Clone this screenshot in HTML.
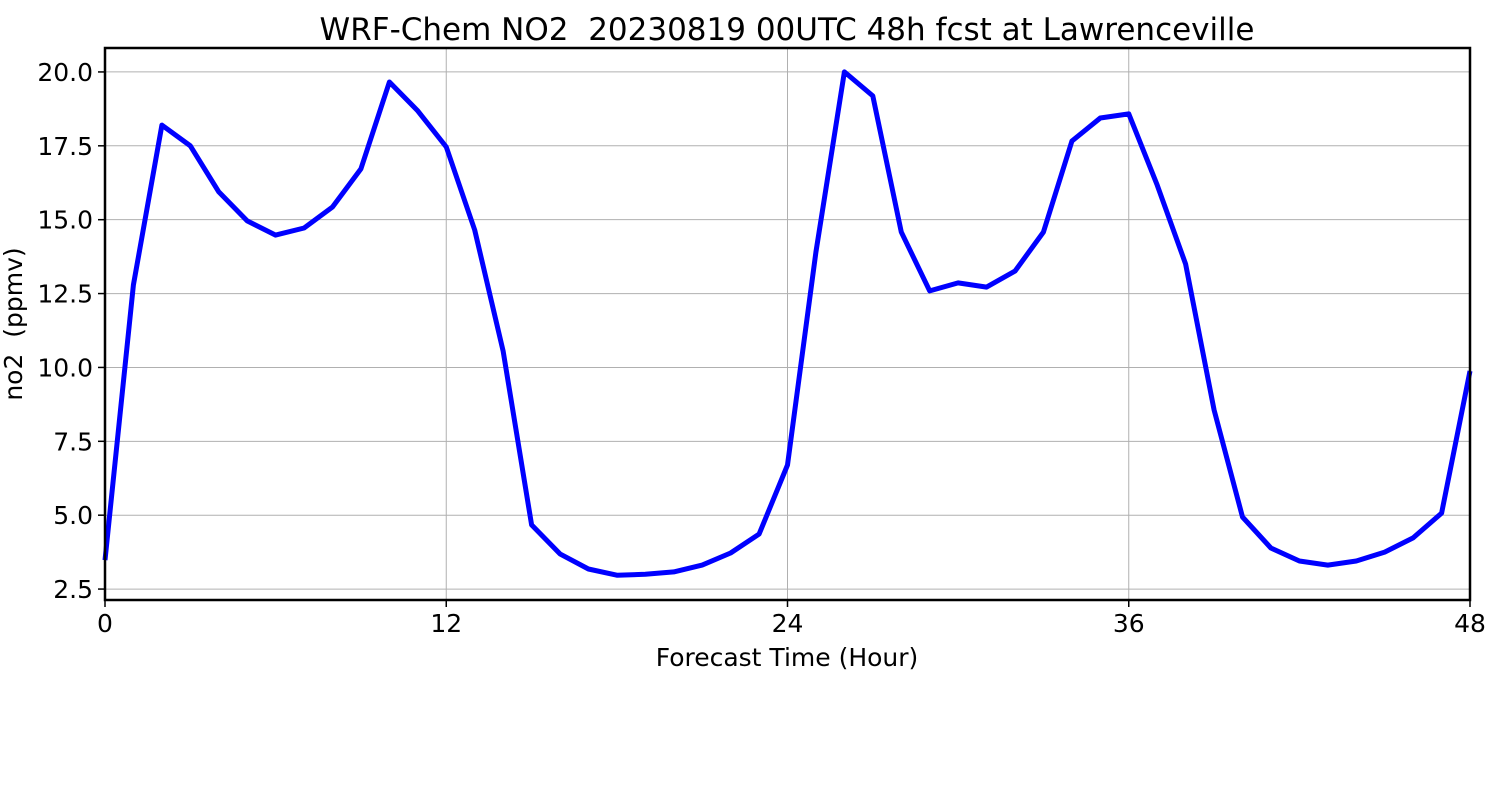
<!DOCTYPE html>
<html><head><meta charset="utf-8"><style>
body{margin:0;background:#fff;}
svg{display:block;font-family:"DejaVu Sans","Liberation Sans",sans-serif;}
</style></head><body>
<svg id="chart" width="1500" height="800"></svg>
<script>
const hours = [];
for (let h = 0; h <= 48; h++) hours.push(h);
const no2Values = [3.48,12.79,18.2,17.5,15.94,14.96,14.48,14.72,15.43,16.72,19.66,18.68,17.46,14.65,10.56,4.67,3.69,3.18,2.97,3.0,3.08,3.31,3.72,4.36,6.7,13.9,20.0,19.19,14.58,12.59,12.86,12.72,13.26,14.58,17.66,18.44,18.58,16.17,13.5,8.56,4.94,3.89,3.45,3.31,3.45,3.75,4.23,5.07,9.88];
const xTicks = [0,12,24,36,48];
const yTicks = [2.5,5.0,7.5,10.0,12.5,15.0,17.5,20.0];
const yTickLabels = ["2.5","5.0","7.5","10.0","12.5","15.0","17.5","20.0"];

const L=105,R=1470,T=48,B=600, xMin=0,xMax=48,yMin=2.13,yMax=20.81;
const sx=v=>L+(v-xMin)/(xMax-xMin)*(R-L);
const sy=v=>B-(v-yMin)/(yMax-yMin)*(B-T);
const svg=document.getElementById('chart');
const NS='http://www.w3.org/2000/svg';
function mk(tag,attrs,text){const e=document.createElementNS(NS,tag);for(const k in attrs)e.setAttribute(k,attrs[k]);if(text!==undefined)e.textContent=text;svg.appendChild(e);return e;}

xTicks.forEach(t=>{
  const g=mk('line',{x1:sx(t),x2:sx(t),y1:T,y2:B,stroke:'#b0b0b0','stroke-width':1});
  
  
  const tk=mk('line',{x1:sx(t),x2:sx(t),y1:B,y2:B+7,stroke:'#000','stroke-width':1.5});
  
  
  const lb=mk('text',{x:sx(t),y:B+32,'text-anchor':'middle','font-size':25},String(t));
  
  
});
yTicks.forEach((t,i)=>{
  const g=mk('line',{x1:L,x2:R,y1:sy(t),y2:sy(t),stroke:'#b0b0b0','stroke-width':1});
  
  
  const tk=mk('line',{x1:L-7,x2:L,y1:sy(t),y2:sy(t),stroke:'#000','stroke-width':1.5});
  
  
  const lb=mk('text',{x:L-12,y:sy(t)+9,'text-anchor':'end','font-size':25},yTickLabels[i]);
  
  
});

const pts=hours.map((h,i)=>sx(h).toFixed(1)+','+sy(no2Values[i]).toFixed(1)).join(' ');
const line=mk('polyline',{points:pts,fill:'none',stroke:'#0000ff','stroke-width':5,'stroke-linejoin':'round'});



const frame=mk('rect',{x:L,y:T,width:R-L,height:B-T,fill:'none',stroke:'#000','stroke-width':2.5});



const title=mk('text',{x:787,y:40,'text-anchor':'middle','font-size':31},'WRF-Chem NO2  20230819 00UTC 48h fcst at Lawrenceville');


title.setAttribute('xml:space','preserve');
title.style.whiteSpace='pre';
const xt=mk('text',{x:787,y:666,'text-anchor':'middle','font-size':25},'Forecast Time (Hour)');


const yt=mk('text',{x:22,y:324,'text-anchor':'middle','font-size':25,transform:'rotate(-90 22 324)'},'no2  (ppmv)');


yt.style.whiteSpace='pre';
</script>
</body></html>
